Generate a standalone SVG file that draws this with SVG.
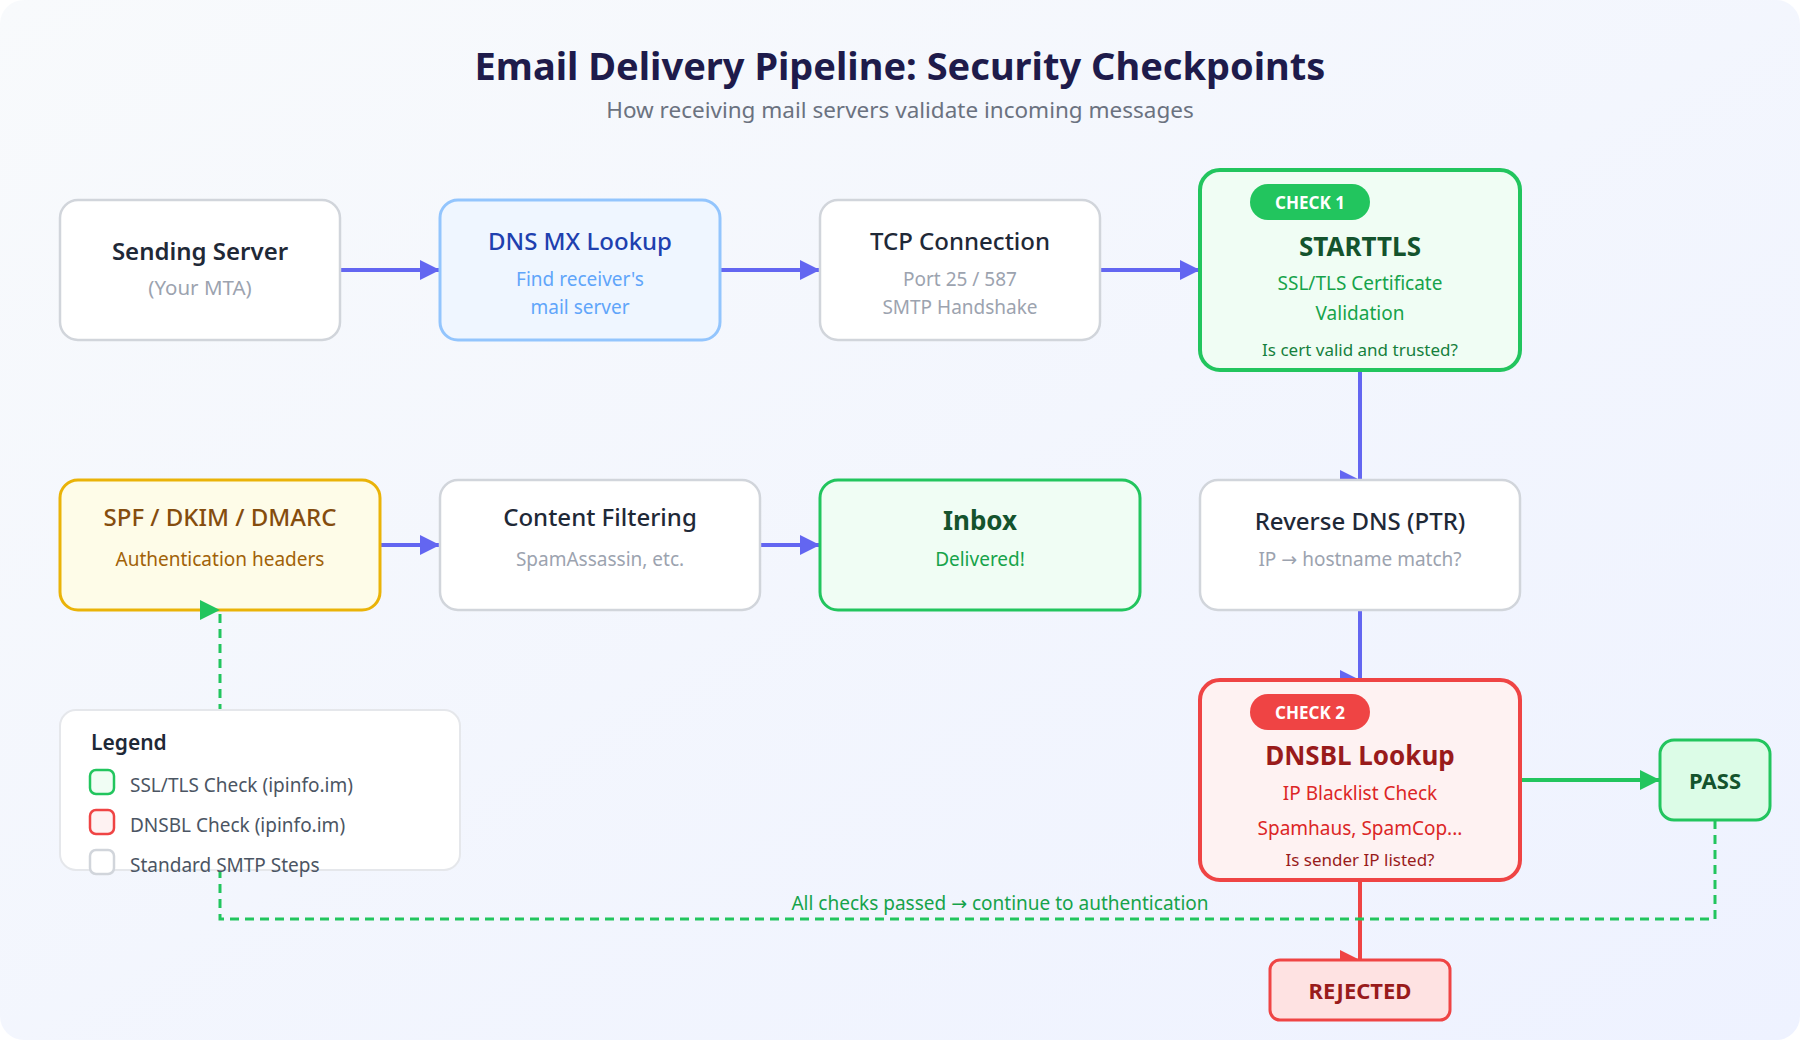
<svg xmlns="http://www.w3.org/2000/svg" width="1800" height="1040" viewBox="0 0 1800 1040">
<defs>
<linearGradient id="bg" x1="0" y1="0" x2="1" y2="1">
<stop offset="0" stop-color="#f8fafc"/>
<stop offset="1" stop-color="#eef2ff"/>
</linearGradient>
<marker id="ah-blue" viewBox="0 0 10 10" refX="10" refY="5" markerWidth="20" markerHeight="22" markerUnits="userSpaceOnUse"><path d="M0,0 L10,5 L0,10 Z" fill="#6366f1"/></marker>
<marker id="ah-green" viewBox="0 0 10 10" refX="10" refY="5" markerWidth="20" markerHeight="22" markerUnits="userSpaceOnUse"><path d="M0,0 L10,5 L0,10 Z" fill="#22c55e"/></marker>
<marker id="ah-red" viewBox="0 0 10 10" refX="10" refY="5" markerWidth="20" markerHeight="22" markerUnits="userSpaceOnUse"><path d="M0,0 L10,5 L0,10 Z" fill="#ef4444"/></marker>
</defs>
<style>
text{font-family:"Noto Sans","Open Sans","Liberation Sans",sans-serif;text-anchor:middle}
.arr{font-family:"DejaVu Sans",sans-serif}
.box{fill:#ffffff;stroke:#d1d5db;stroke-width:2.5}
.t{font-size:24px;font-weight:600;fill:#1f2937}
.s{font-size:19px;fill:#9ca3af}
.tb{font-size:26px;font-weight:700}
.pill{font-size:17px;font-weight:700;fill:#ffffff}
.small{font-size:17px}
.c-blue{stroke:#6366f1;stroke-width:4;fill:none}
.c-green{stroke:#22c55e;stroke-width:4;fill:none}
.c-red{stroke:#ef4444;stroke-width:4;fill:none}
.dash{stroke:#22c55e;stroke-width:3;fill:none;stroke-dasharray:9 6}
.leg{font-size:19px;fill:#4b5563;text-anchor:start}
</style>
<rect x="0" y="0" width="1800" height="1040" fill="#ffffff"/>
<rect x="0" y="0" width="1800" height="1040" rx="24" fill="url(#bg)"/>
<text x="900" y="80" style="font-size:38px;font-weight:700;fill:#1e1b4b">Email Delivery Pipeline: Security Checkpoints</text>
<text x="900" y="118" style="font-size:22.5px;fill:#6b7280">How receiving mail servers validate incoming messages</text>

<g id="connectors">
<path class="c-blue" d="M340 270 L440 270" marker-end="url(#ah-blue)"/>
<path class="c-blue" d="M720 270 L820 270" marker-end="url(#ah-blue)"/>
<path class="c-blue" d="M1100 270 L1200 270" marker-end="url(#ah-blue)"/>
<path class="c-blue" d="M1360 370 L1360 480" marker-end="url(#ah-blue)"/>
<path class="c-blue" d="M1360 610 L1360 680" marker-end="url(#ah-blue)"/>
<path class="c-blue" d="M380 545 L440 545" marker-end="url(#ah-blue)"/>
<path class="c-blue" d="M760 545 L820 545" marker-end="url(#ah-blue)"/>
<path class="c-green" d="M1520 780 L1660 780" marker-end="url(#ah-green)"/>
<path class="c-red" d="M1360 880 L1360 960" marker-end="url(#ah-red)"/>
</g>

<g id="node-sending">
<rect class="box" x="60" y="200" width="280" height="140" rx="18"/>
<text class="t" x="200" y="260">Sending Server</text>
<text class="s" x="200" y="295" style="font-size:20.5px">(Your MTA)</text>
</g>
<g id="node-dnsmx">
<rect x="440" y="200" width="280" height="140" rx="18" fill="#eff6ff" stroke="#93c5fd" stroke-width="3"/>
<text class="t" x="580" y="250" style="fill:#1e40af;font-weight:500">DNS MX Lookup</text>
<text class="s" x="580" y="286" style="fill:#60a5fa">Find receiver's</text>
<text class="s" x="580" y="314" style="fill:#60a5fa">mail server</text>
</g>
<g id="node-tcp">
<rect class="box" x="820" y="200" width="280" height="140" rx="18"/>
<text class="t" x="960" y="250" style="font-weight:500">TCP Connection</text>
<text class="s" x="960" y="286">Port 25 / 587</text>
<text class="s" x="960" y="314">SMTP Handshake</text>
</g>
<g id="node-starttls">
<rect x="1200" y="170" width="320" height="200" rx="20" fill="#f0fdf4" stroke="#22c55e" stroke-width="4"/>
<rect x="1250" y="184" width="120" height="36" rx="18" fill="#22c55e"/>
<text class="pill" x="1310" y="209">CHECK 1</text>
<text class="tb" x="1360" y="256" style="fill:#14532d">STARTTLS</text>
<text class="s" x="1360" y="290" style="fill:#16a34a">SSL/TLS Certificate</text>
<text class="s" x="1360" y="320" style="fill:#16a34a">Validation</text>
<text class="small" x="1360" y="356" style="fill:#15803d">Is cert valid and trusted?</text>
</g>
<g id="node-spf">
<rect x="60" y="480" width="320" height="130" rx="18" fill="#fefce8" stroke="#eab308" stroke-width="3"/>
<text class="t" x="220" y="526" style="fill:#854d0e;font-weight:500">SPF / DKIM / DMARC</text>
<text class="s" x="220" y="566" style="fill:#a16207">Authentication headers</text>
</g>
<g id="node-content">
<rect class="box" x="440" y="480" width="320" height="130" rx="18"/>
<text class="t" x="600" y="526" style="font-weight:500">Content Filtering</text>
<text class="s" x="600" y="566">SpamAssassin, etc.</text>
</g>
<g id="node-inbox">
<rect x="820" y="480" width="320" height="130" rx="18" fill="#f0fdf4" stroke="#22c55e" stroke-width="3"/>
<text class="tb" x="980" y="530" style="fill:#14532d">Inbox</text>
<text class="s" x="980" y="566" style="fill:#16a34a">Delivered!</text>
</g>
<g id="node-rdns">
<rect class="box" x="1200" y="480" width="320" height="130" rx="18"/>
<text class="t" x="1360" y="530" style="font-weight:500">Reverse DNS (PTR)</text>
<text class="s" x="1360" y="566">IP <tspan class="arr">→</tspan> hostname match?</text>
</g>
<g id="node-dnsbl">
<rect x="1200" y="680" width="320" height="200" rx="20" fill="#fef2f2" stroke="#ef4444" stroke-width="4"/>
<rect x="1250" y="694" width="120" height="36" rx="18" fill="#ef4444"/>
<text class="pill" x="1310" y="719">CHECK 2</text>
<text class="tb" x="1360" y="765" style="fill:#991b1b">DNSBL Lookup</text>
<text class="s" x="1360" y="800" style="fill:#dc2626">IP Blacklist Check</text>
<text class="s" x="1360" y="835" style="fill:#dc2626">Spamhaus, SpamCop...</text>
<text class="small" x="1360" y="866" style="fill:#991b1b">Is sender IP listed?</text>
</g>
<g id="node-pass">
<rect x="1660" y="740" width="110" height="80" rx="14" fill="#dcfce7" stroke="#22c55e" stroke-width="3"/>
<text x="1715" y="789" style="font-size:22px;font-weight:700;fill:#14532d">PASS</text>
</g>
<g id="node-rejected">
<rect x="1270" y="960" width="180" height="60" rx="10" fill="#fee2e2" stroke="#ef4444" stroke-width="3"/>
<text x="1360" y="999" style="font-size:22px;font-weight:700;fill:#991b1b">REJECTED</text>
</g>

<g id="connectors-feedback">
<path class="dash" d="M1715 820 L1715 919 L220 919 L220 610" marker-end="url(#ah-green)"/>
<text x="1000" y="910" style="font-size:19px;fill:#16a34a">All checks passed <tspan class="arr">→</tspan> continue to authentication</text>
</g>

<g id="legend">
<rect x="60" y="710" width="400" height="160" rx="16" fill="#ffffff" stroke="#e5e7eb" stroke-width="2"/>
<text x="91" y="750" style="font-size:21px;font-weight:600;fill:#1f2937;text-anchor:start">Legend</text>
<rect x="90" y="770" width="24" height="24" rx="6" fill="#f0fdf4" stroke="#22c55e" stroke-width="2.5"/>
<text class="leg" x="130" y="792">SSL/TLS Check (ipinfo.im)</text>
<rect x="90" y="810" width="24" height="24" rx="6" fill="#fef2f2" stroke="#ef4444" stroke-width="2.5"/>
<text class="leg" x="130" y="832">DNSBL Check (ipinfo.im)</text>
<rect x="90" y="850" width="24" height="24" rx="6" fill="#ffffff" stroke="#d1d5db" stroke-width="2.5"/>
<text class="leg" x="130" y="872">Standard SMTP Steps</text>
</g>
</svg>
